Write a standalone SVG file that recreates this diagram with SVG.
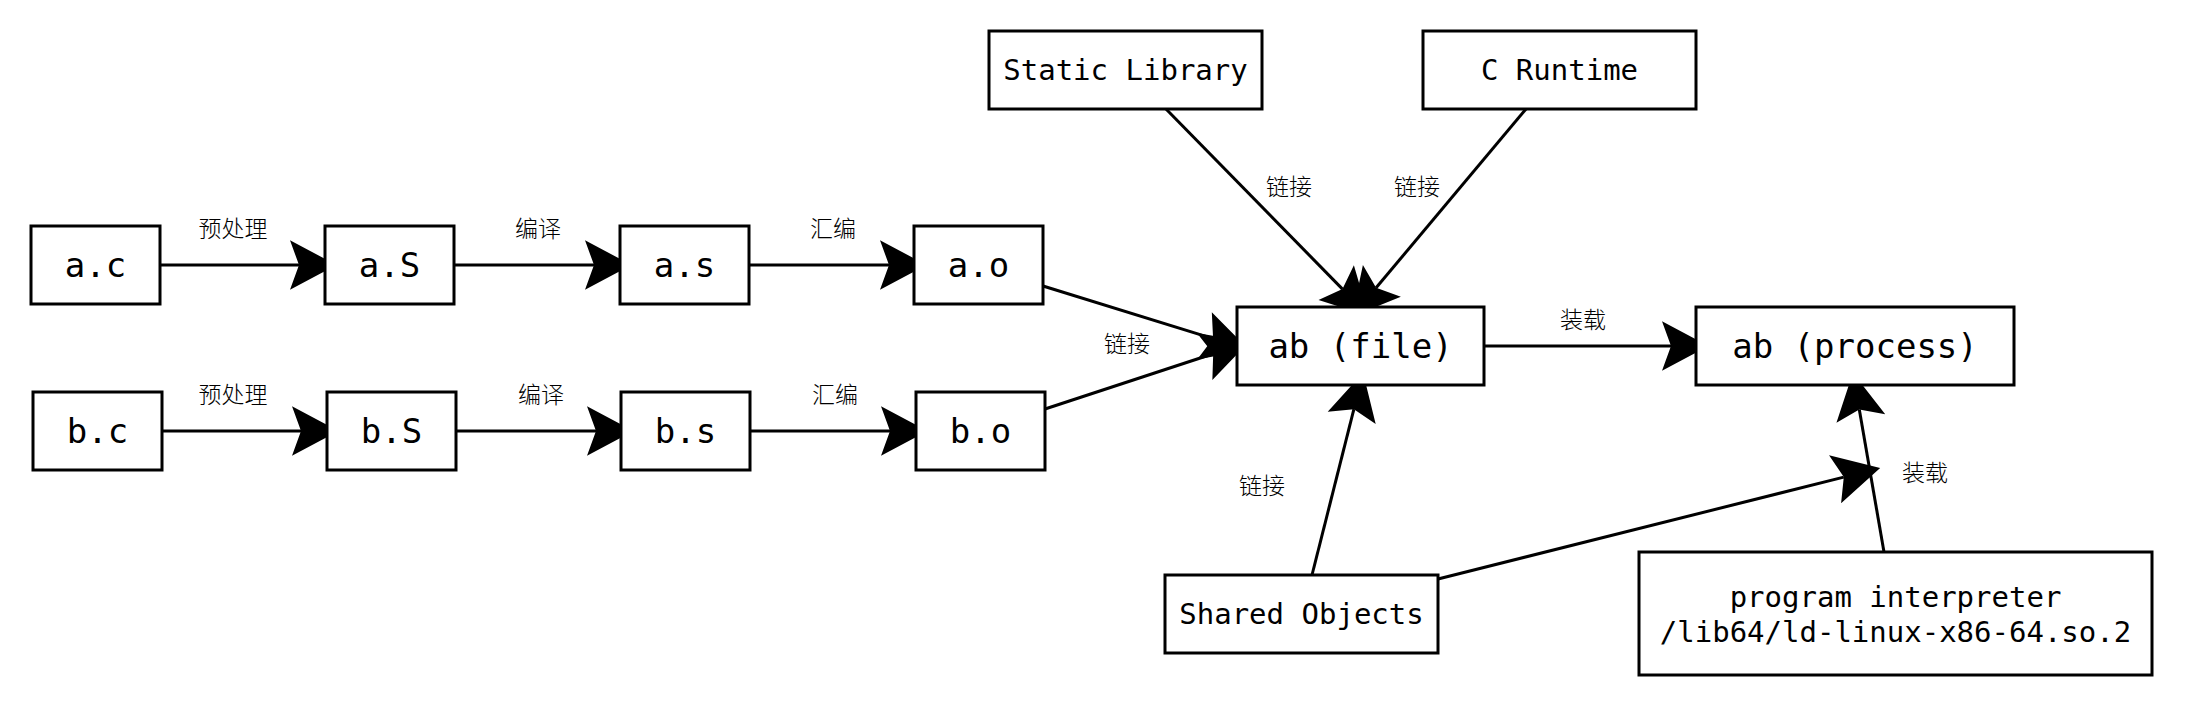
<svg xmlns="http://www.w3.org/2000/svg" width="2187" height="708" viewBox="0 0 2187 708">
<style>
.box{fill:#fff;stroke:#000;stroke-width:3}
.t{font-family:"DejaVu Sans Mono","Liberation Mono",monospace;fill:#000;text-anchor:middle;dominant-baseline:central}
.big{font-size:34px}
.sm{font-size:29px}
.lbl{font-family:"Noto Sans CJK SC","Noto Sans",sans-serif;font-size:23px;font-weight:300;fill:#000;text-anchor:middle;dominant-baseline:central}
.c{stroke:#000;stroke-width:3;fill:none;marker-end:url(#ah)}
</style>
<defs>
<marker id="ah" markerUnits="userSpaceOnUse" orient="auto" refX="0" refY="0" markerWidth="60" markerHeight="60" viewBox="-10 -20 40 40" overflow="visible">
<path d="M25,0 L-6,-16.5 L0,0 L-6,16.5 Z" fill="#000"/>
</marker>
</defs>
<rect width="2187" height="708" fill="#fff"/>
<g id="connectors">
<line class="c" x1="160" y1="265" x2="299" y2="265"/>
<line class="c" x1="454" y1="265" x2="594" y2="265"/>
<line class="c" x1="749" y1="265" x2="889" y2="265"/>
<line class="c" x1="162" y1="431" x2="301" y2="431"/>
<line class="c" x1="456" y1="431" x2="596" y2="431"/>
<line class="c" x1="750" y1="431" x2="890" y2="431"/>
<line class="c" x1="1043" y1="286" x2="1213.1" y2="338.6"/>
<line class="c" x1="1045" y1="409" x2="1213.2" y2="353.8"/>
<line class="c" x1="1166" y1="109" x2="1342.5" y2="289.1"/>
<line class="c" x1="1526" y1="109" x2="1376.1" y2="287.8"/>
<line class="c" x1="1484" y1="346" x2="1671" y2="346"/>
<line class="c" x1="1312" y1="575" x2="1353.9" y2="409.2"/>
<line class="c" x1="1438" y1="579" x2="1843.8" y2="477.1"/>
<line class="c" x1="1884" y1="552" x2="1859.3" y2="409.6"/>
<text class="lbl" x="233" y="227">预处理</text>
<text class="lbl" x="538" y="227">编译</text>
<text class="lbl" x="833" y="227">汇编</text>
<text class="lbl" x="233" y="393">预处理</text>
<text class="lbl" x="541" y="393">编译</text>
<text class="lbl" x="835" y="393">汇编</text>
<text class="lbl" x="1127" y="342">链接</text>
<text class="lbl" x="1289" y="185">链接</text>
<text class="lbl" x="1417" y="185">链接</text>
<text class="lbl" x="1583" y="318">装载</text>
<text class="lbl" x="1262" y="484">链接</text>
<text class="lbl" x="1925" y="471">装载</text>
</g>
<g id="ac"><rect class="box" x="31" y="226" width="129" height="78"/><text class="t big" x="95.5" y="265">a.c</text></g>
<g id="aS"><rect class="box" x="325" y="226" width="129" height="78"/><text class="t big" x="389.5" y="265">a.S</text></g>
<g id="as"><rect class="box" x="620" y="226" width="129" height="78"/><text class="t big" x="684.5" y="265">a.s</text></g>
<g id="ao"><rect class="box" x="914" y="226" width="129" height="78"/><text class="t big" x="978.5" y="265">a.o</text></g>
<g id="bc"><rect class="box" x="33" y="392" width="129" height="78"/><text class="t big" x="97.5" y="431">b.c</text></g>
<g id="bS"><rect class="box" x="327" y="392" width="129" height="78"/><text class="t big" x="391.5" y="431">b.S</text></g>
<g id="bs"><rect class="box" x="621" y="392" width="129" height="78"/><text class="t big" x="685.5" y="431">b.s</text></g>
<g id="bo"><rect class="box" x="916" y="392" width="129" height="78"/><text class="t big" x="980.5" y="431">b.o</text></g>
<g id="abfile"><rect class="box" x="1237" y="307" width="247" height="78"/><text class="t big" x="1360.5" y="346">ab (file)</text></g>
<g id="abprocess"><rect class="box" x="1696" y="307" width="318" height="78"/><text class="t big" x="1855" y="346">ab (process)</text></g>
<g id="staticlib"><rect class="box" x="989" y="31" width="273" height="78"/><text class="t sm" x="1125.5" y="70">Static Library</text></g>
<g id="cruntime"><rect class="box" x="1423" y="31" width="273" height="78"/><text class="t sm" x="1559.5" y="70">C Runtime</text></g>
<g id="shared"><rect class="box" x="1165" y="575" width="273" height="78"/><text class="t sm" x="1301.5" y="614">Shared Objects</text></g>
<g id="interp"><rect class="box" x="1639" y="552" width="513" height="123"/><text class="t sm" x="1895.5" y="597">program interpreter</text><text class="t sm" x="1895.5" y="632">/lib64/ld-linux-x86-64.so.2</text></g>
</svg>
